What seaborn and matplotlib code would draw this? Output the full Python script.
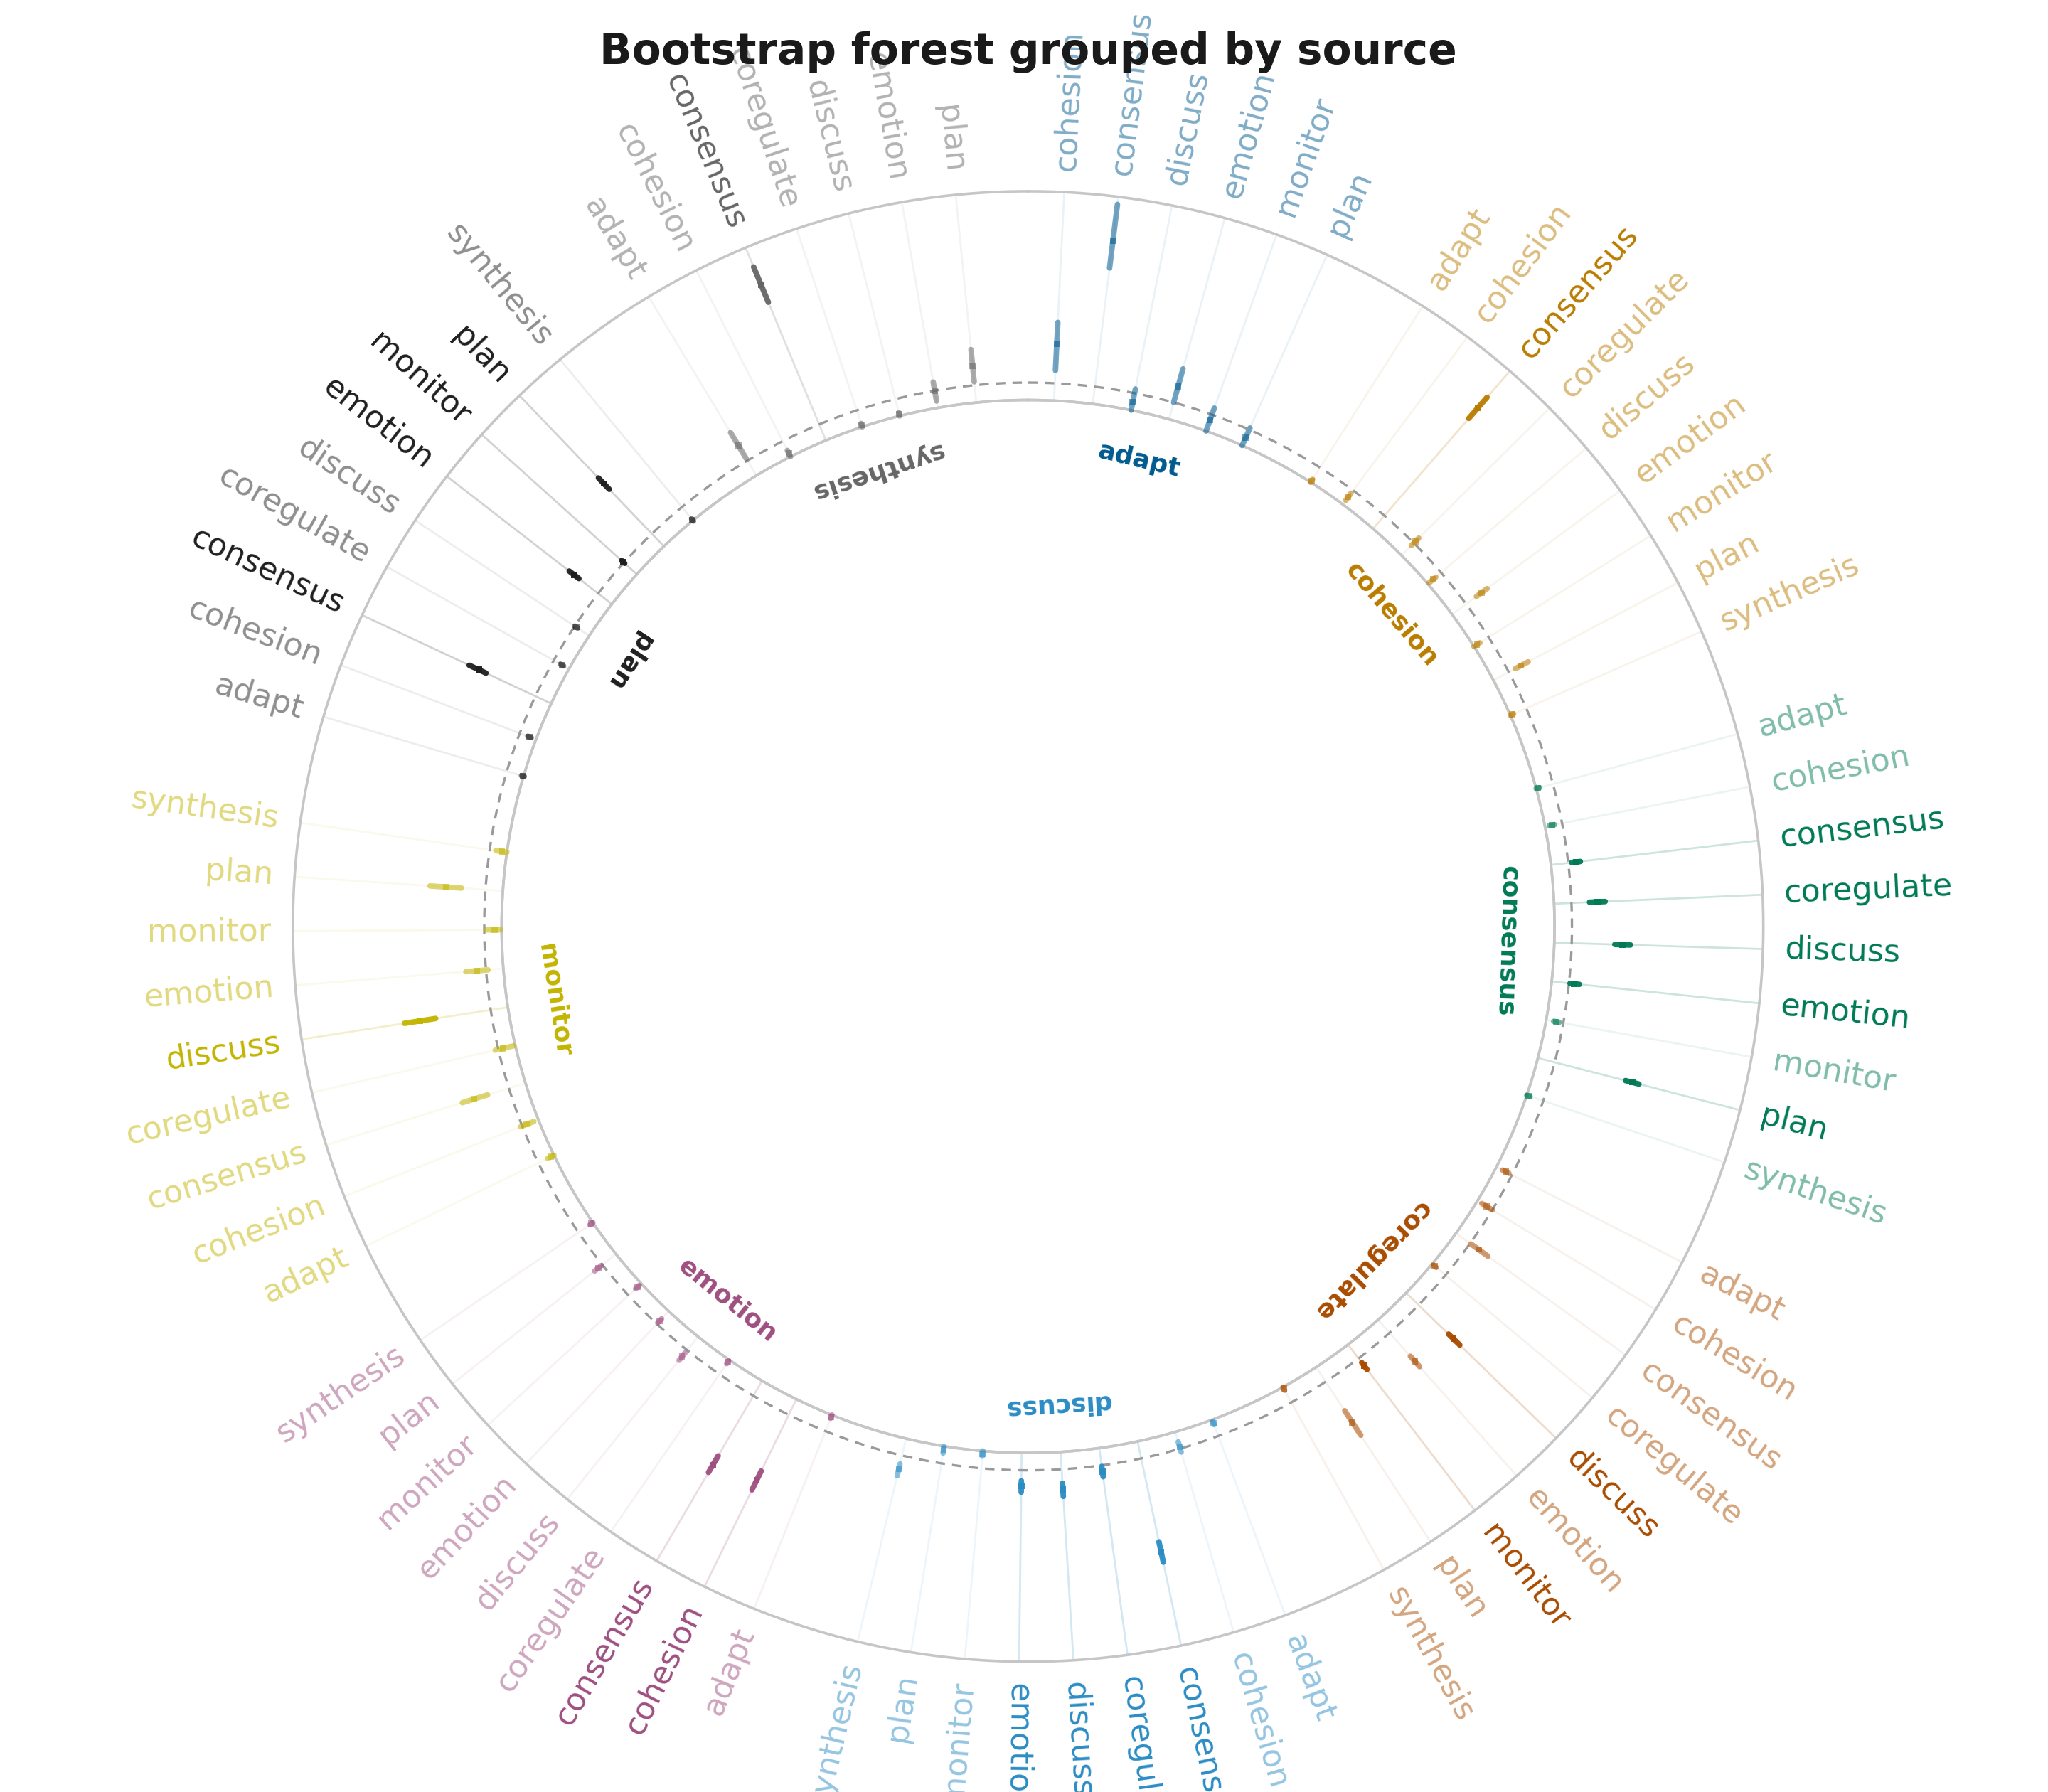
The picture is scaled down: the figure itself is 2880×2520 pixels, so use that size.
import numpy as np
import pandas as pd
import matplotlib
matplotlib.use('Agg')
import matplotlib.pyplot as plt
import seaborn as sns

sns.set_theme(style='white')
plt.rcParams['font.family'] = ['DejaVu Sans']

sources = ['adapt', 'cohesion', 'consensus', 'coregulate', 'discuss',
           'emotion', 'monitor', 'plan', 'synthesis']
group_colors = ['#005A8F', '#B97C00', '#007A55', '#A84C00', '#2B8CC4',
                '#9E4F80', '#C2B400', '#1F1F1F', '#666666']

all9 = ['adapt', 'cohesion', 'consensus', 'coregulate', 'discuss',
        'emotion', 'monitor', 'plan', 'synthesis']

edge_source = (['adapt'] * 6 + ['cohesion'] * 9 + ['consensus'] * 9 +
               ['coregulate'] * 9 + ['discuss'] * 9 + ['emotion'] * 9 +
               ['monitor'] * 9 + ['plan'] * 9 + ['synthesis'] * 7)
edge_target = (['cohesion', 'consensus', 'discuss', 'emotion', 'monitor', 'plan'] +
               all9 * 7 +
               ['adapt', 'cohesion', 'consensus', 'coregulate', 'discuss', 'emotion', 'plan'])

estimate = [0.113, 0.423, -0.027, 0.047, -0.017, -0.025,
            -0.045, -0.024, 0.41, 0.006, -0.03, 0.055, -0.04, 0.04, -0.045,
            -0.045, -0.03, 0.022, 0.075, 0.145, 0.015, -0.02, 0.23, -0.045,
            -0.02, -0.02, 0.03, -0.04, 0.14, 0.11, 0.026, 0.14, -0.045,
            -0.04, -0.005, 0.275, 0.018, 0.058, 0.046, -0.042, -0.04, 0.04,
            -0.045, 0.21, 0.23, -0.042, 0.024, -0.012, -0.035, 0.015, -0.045,
            -0.04, -0.014, 0.105, -0.014, 0.205, 0.026, -0.029, 0.114, -0.036,
            -0.048, -0.03, 0.18, -0.027, -0.005, 0.088, 0.003, 0.2, -0.048,
            0.05, -0.04, 0.435, -0.045, -0.045, 0.0, 0.055]
ci_low = [0.037, 0.344, -0.05, 0.0, -0.05, -0.05,
          -0.05, -0.035, 0.37, -0.01, -0.045, 0.037, -0.05, 0.022, -0.05,
          -0.05, -0.037, 0.01, 0.052, 0.124, 0.003, -0.028, 0.21, -0.05,
          -0.03, -0.035, 0.003, -0.045, 0.12, 0.09, 0.015, 0.10, -0.05,
          -0.045, -0.02, 0.245, 0.003, 0.04, 0.03, -0.05, -0.048, 0.025,
          -0.05, 0.18, 0.20, -0.047, 0.01, -0.02, -0.042, 0.003, -0.05,
          -0.05, -0.036, 0.064, -0.045, 0.16, -0.006, -0.047, 0.069, -0.05,
          -0.052, -0.035, 0.157, -0.032, -0.01, 0.07, -0.003, 0.177, -0.052,
          0.007, -0.05, 0.38, -0.05, -0.05, -0.03, 0.01]
ci_high = [0.175, 0.528, 0.012, 0.10, 0.02, 0.005,
           -0.04, -0.01, 0.45, 0.02, -0.02, 0.075, -0.03, 0.063, -0.04,
           -0.04, -0.022, 0.035, 0.097, 0.169, 0.03, -0.012, 0.25, -0.04,
           -0.01, 0.0, 0.063, -0.035, 0.165, 0.13, 0.04, 0.184, -0.04,
           -0.035, 0.01, 0.305, 0.033, 0.078, 0.063, -0.035, -0.03, 0.06,
           -0.04, 0.24, 0.255, -0.037, 0.037, -0.004, -0.028, 0.028, -0.04,
           -0.03, 0.005, 0.14, 0.009, 0.251, 0.058, -0.006, 0.16, -0.018,
           -0.044, -0.025, 0.21, -0.022, 0.0, 0.105, 0.009, 0.222, -0.044,
           0.094, -0.03, 0.49, -0.04, -0.04, 0.025, 0.103]
significant = [0, 0, 0, 0, 0, 0,
               0, 0, 1, 0, 0, 0, 0, 0, 0,
               0, 0, 1, 1, 1, 1, 0, 1, 0,
               0, 0, 0, 0, 1, 0, 1, 0, 0,
               0, 0, 1, 1, 1, 1, 0, 0, 0,
               0, 1, 1, 0, 0, 0, 0, 0, 0,
               0, 0, 0, 0, 1, 0, 0, 0, 0,
               0, 0, 1, 0, 0, 1, 1, 1, 0,
               0, 0, 1, 0, 0, 0, 0]

df = pd.DataFrame({'source': edge_source, 'target': edge_target,
                   'estimate': estimate, 'lo': ci_low, 'hi': ci_high,
                   'sig': np.array(significant, dtype=bool)})
palette = dict(zip(sources, group_colors))
df['color'] = df['source'].map(palette)

# one empty slot after every source group
n_slots = len(df) + len(sources)
slots = []
pos = 0
for s in sources:
    n = int((df['source'] == s).sum())
    slots.extend(range(pos, pos + n))
    pos += n + 1
base = (np.array(slots) + 0.5) * 2 * np.pi / n_slots
df['side'] = np.where(np.degrees(base) <= 180 + 1e-6, 'right', 'left')
df['theta'] = base + np.radians(0.7)

r_in, r_out, r_origin = -0.05, 0.55, -1.563

fig = plt.figure(figsize=(14.4, 12.6), dpi=200)
ax = fig.add_axes([0.143, 0.0727, 0.718, 0.8206], projection='polar')
ax.set_theta_zero_location('N')
ax.set_theta_direction(-1)
ax.set_ylim(r_in, r_out)
ax.set_rorigin(r_origin)
ax.grid(False)
ax.set_xticks([])
ax.set_yticks([])
for sp in ax.spines.values():
    sp.set_color('#c6c6c6')
    sp.set_linewidth(1.3)
ax.spines['polar'].set_visible(False)

circ = np.linspace(0, 2 * np.pi, 720)
ax.plot(circ, np.full_like(circ, r_out), color='#c6c6c6', lw=1.3, clip_on=False, zorder=2)
ax.plot(circ, np.full_like(circ, r_in), color='#c6c6c6', lw=1.3, clip_on=False, zorder=2)
ax.plot(circ, np.zeros_like(circ), color='#9a9a9a', lw=1.2, ls=(0, (4, 3)),
        clip_on=False, zorder=2)

for _, row in df.iterrows():
    t = row['theta']
    c = row['color']
    ax.plot([t, t], [r_in, r_out], color=c, alpha=0.2 if row['sig'] else 0.08,
            lw=1.0, zorder=1, clip_on=False)
    ax.plot([t, t], [row['lo'], row['hi']], color=c, alpha=0.95 if row['sig'] else 0.55,
            lw=2.8, solid_capstyle='round', zorder=3, clip_on=False)

for flag, a in [(False, 0.55), (True, 0.95)]:
    sub = df[df['sig'] == flag]
    sns.scatterplot(data=sub, x='theta', y='estimate', hue='source', palette=palette,
                    marker='s', s=10, linewidth=0, alpha=a, legend=False, ax=ax,
                    zorder=4, clip_on=False)
ax.set_xlabel('')
ax.set_ylabel('')

# target labels outside the ring
r_lab = 0.612
for _, row in df.iterrows():
    deg = np.degrees(row['theta'])
    if row['side'] == 'right':
        rot, ha = 90 - deg, 'left'
    else:
        rot, ha = 270 - deg, 'right'
    ax.text(row['theta'], r_lab, row['target'], rotation=rot, rotation_mode='anchor',
            ha=ha, va='center', fontsize=16, color=row['color'],
            alpha=1.0 if row['sig'] else 0.5)

# source labels inside the ring
r_grp = -0.185
for s, c in zip(sources, group_colors):
    th = df.loc[df['source'] == s, 'theta'].mean()
    deg = np.degrees(th)
    rot = -deg
    if deg > 180:
        rot += 180
    ax.text(th, r_grp, s, rotation=rot, rotation_mode='anchor', ha='center',
            va='center', fontsize=13, fontweight='bold', color=c)

fig.text(0.502, 0.971, 'Bootstrap forest grouped by source', ha='center', va='center',
         fontsize=21.5, fontweight='bold', color='#1a1a1a')

fig.savefig('out.png', dpi=200, facecolor='white')
